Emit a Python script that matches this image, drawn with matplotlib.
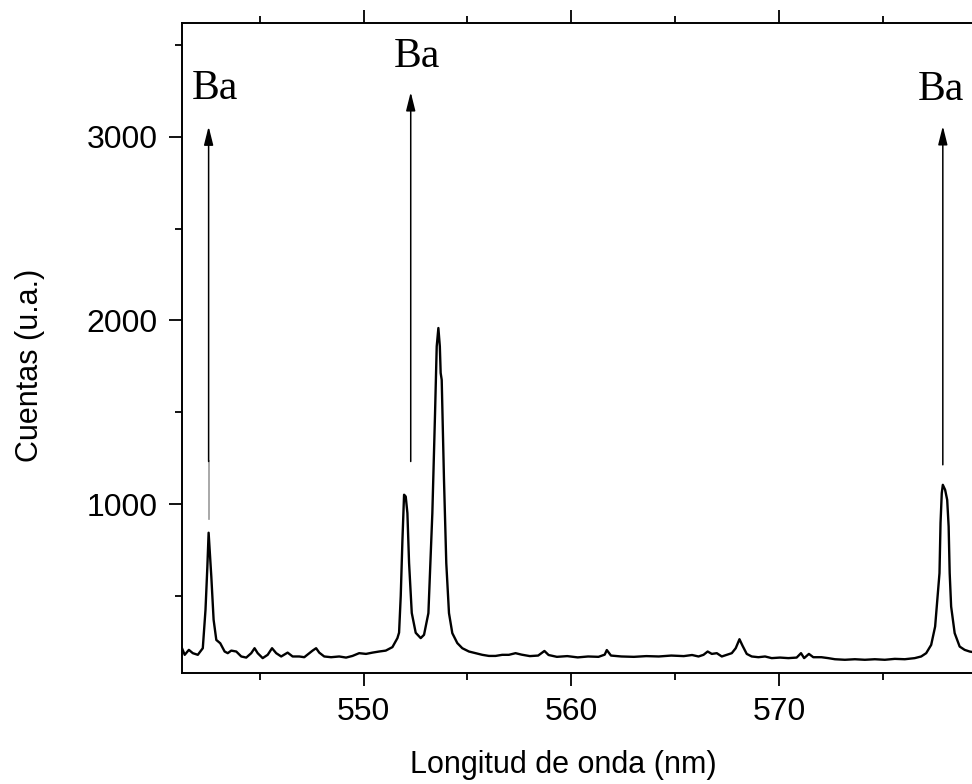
import matplotlib
matplotlib.use("Agg")
import matplotlib.pyplot as plt
from matplotlib.ticker import MultipleLocator

plt.rcParams['font.family'] = ['Liberation Sans', 'DejaVu Sans']

# spectrum (wavelength nm, counts)
wavelength = [
    541.27, 541.40, 541.60, 541.79, 542.03, 542.27, 542.40, 542.49, 542.55, 542.68,
    542.79, 542.92, 543.11, 543.32, 543.47, 543.64, 543.88, 544.12, 544.36, 544.60,
    544.76, 544.91, 545.15, 545.39, 545.60, 545.80, 546.04, 546.35, 546.59, 546.91,
    547.15, 547.39, 547.55, 547.72, 547.87, 548.11, 548.44, 548.83, 549.16, 549.47,
    549.79, 550.12, 550.43, 550.75, 551.07, 551.39, 551.63,
    551.71, 551.79, 551.87, 551.95, 552.03, 552.11, 552.19, 552.32, 552.51, 552.75,
    552.91, 553.12, 553.31, 553.44, 553.52, 553.60, 553.67, 553.71, 553.76, 553.87,
    553.98, 554.11, 554.27, 554.51, 554.75, 555.07, 555.39, 555.71, 556.03, 556.35,
    556.67, 556.99, 557.31,
    557.6, 558.0, 558.4, 558.7, 558.9, 559.3, 559.8, 560.3, 560.8, 561.3,
    561.6, 561.7, 561.9, 562.4, 563.0, 563.6, 564.2, 564.8, 565.4, 565.8,
    566.11, 566.35, 566.55, 566.75, 566.99, 567.23, 567.47, 567.71, 567.90, 568.08,
    568.23, 568.43, 568.67, 568.99, 569.31, 569.63, 570.03, 570.43, 570.83, 571.04,
    571.19, 571.42, 571.63, 572.02, 572.35, 572.67, 573.15, 573.63, 574.11, 574.59,
    575.07, 575.55, 576.03, 576.51, 576.82, 577.06, 577.30, 577.49, 577.62, 577.70,
    577.75, 577.81, 577.86, 577.97, 578.07, 578.14, 578.19, 578.26, 578.43, 578.67,
    578.91, 579.15, 579.5,
]
counts = [
    215, 179, 206, 188, 179, 215, 424, 660, 844, 605,
    370, 260, 242, 197, 188, 202, 197, 170, 164, 188,
    215, 188, 161, 179, 215, 188, 170, 191, 170, 170,
    166, 188, 202, 215, 191, 170, 166, 170, 164, 173,
    188, 184, 191, 197, 202, 221, 270,
    300, 500, 800, 1051, 1041, 951, 680, 407, 299, 270,
    288, 406, 951, 1496, 1859, 1959, 1859, 1714, 1677, 1132,
    678, 406, 297, 243, 215, 197, 188, 179, 173, 173,
    179, 179, 188,
    180, 172, 175, 200, 178, 168, 172, 165, 170, 168,
    180, 205, 175, 170, 168, 172, 170, 175, 172, 178,
    170, 179, 197, 184, 188, 170, 179, 188, 215, 264,
    228, 184, 170, 166, 170, 161, 164, 161, 164, 188,
    161, 184, 166, 166, 161, 155, 152, 155, 152, 155,
    152, 157, 155, 161, 170, 188, 233, 333, 515, 624,
    898, 1060, 1105, 1078, 1023, 878, 624, 442, 297, 224,
    206, 197, 190,
]

# Ba lines: arrow position, arrow start / tip, label position
ba_x = [542.55, 552.27, 577.86]
ba_start = [1232, 1232, 1214]
ba_tip = [3057, 3244, 3059]
ba_label_x = [541.72, 551.47, 576.67]
ba_label_y = [3207, 3383, 3201]
ba_grey_start = 920  # faint lower part of the first arrow

fig = plt.figure(figsize=(9.72, 7.84), dpi=100)
# the right end of the frame lies past the picture edge, as in the original
ax = fig.add_axes([182 / 972, 1 - 673 / 784, (979 - 182) / 972, (673 - 22.7) / 784])

ax.plot(wavelength, counts, color='black', lw=1.7, solid_joinstyle='round')

ax.plot([ba_x[0], ba_x[0]], [ba_grey_start, ba_start[0]], color='#999999', lw=1.2)
for x, y0, y1, lx, ly in zip(ba_x, ba_start, ba_tip, ba_label_x, ba_label_y):
    ax.annotate('', xy=(x, y1), xytext=(x, y0),
                arrowprops=dict(arrowstyle='-|>,head_length=0.8,head_width=0.2',
                                color='black', lw=1.1, shrinkA=0, shrinkB=0,
                                mutation_scale=14))
    ax.text(lx, ly, 'Ba', family='Liberation Serif', fontsize=30,
            ha='left', va='baseline')

ax.set_xlim(541.27, 579.6)
ax.set_ylim(80, 3622)
ax.xaxis.set_major_locator(MultipleLocator(10))
ax.xaxis.set_minor_locator(MultipleLocator(5))
ax.yaxis.set_major_locator(MultipleLocator(1000))
ax.yaxis.set_minor_locator(MultipleLocator(500))
ax.set_yticks([1000, 2000, 3000])

ax.tick_params(which='both', direction='out', top=True, labeltop=False,
               right=False, width=1.3, labelsize=23, pad=8)
ax.tick_params(which='major', length=9.5)
ax.tick_params(which='minor', length=5)
for s in ax.spines.values():
    s.set_linewidth(1.4)

ax.set_xlabel('Longitud de onda (nm)', fontsize=22, ha='left')
ax.xaxis.set_label_coords(410 / 972, 1 - 750 / 784, transform=fig.transFigure)
ax.set_ylabel('Cuentas (u.a.)', fontsize=22)
ax.yaxis.set_label_coords(45 / 972, 1 - 365 / 784, transform=fig.transFigure)

fig.savefig('out.png', dpi=100)
